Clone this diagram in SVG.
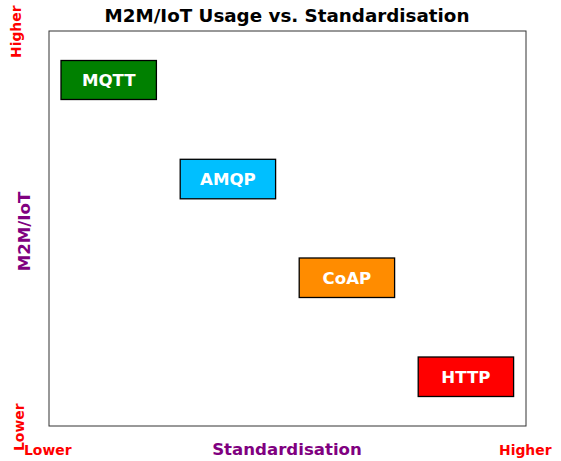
<svg xmlns="http://www.w3.org/2000/svg" width="561" height="461" viewBox="0 0 561 461">
  <style>
    text { font-family: "DejaVu Sans", "Liberation Sans", sans-serif; font-weight: bold; }
    .box { stroke: #000; stroke-width: 1.3; }
    .lbl { fill: #fff; font-size: 16.6px; text-anchor: middle; }
    .axis { fill: #800080; font-size: 16.6px; text-anchor: middle; }
    .tick { fill: #ff0000; font-size: 13.9px; }
  </style>
  <rect width="561" height="461" fill="#fff"/>
  <text x="287" y="22" font-size="18.3" text-anchor="middle" fill="#000">M2M/IoT Usage vs. Standardisation</text>
  <rect x="49" y="31" width="477" height="395" fill="none" stroke="#333" stroke-width="1"/>
  <g id="connectors"/>
  <g id="mqtt">
    <rect class="box" x="61" y="60.5" width="95.4" height="39" fill="#008000"/>
    <text class="lbl" x="108.7" y="86">MQTT</text>
  </g>
  <g id="amqp">
    <rect class="box" x="180.2" y="159.3" width="95.4" height="39.5" fill="#00bfff"/>
    <text class="lbl" x="227.9" y="185">AMQP</text>
  </g>
  <g id="coap">
    <rect class="box" x="299.2" y="258" width="95.4" height="39.5" fill="#ff8c00"/>
    <text class="lbl" x="346.9" y="283.7">CoAP</text>
  </g>
  <g id="http">
    <rect class="box" x="418.2" y="357" width="95.4" height="39.5" fill="#ff0000"/>
    <text class="lbl" x="465.9" y="382.7">HTTP</text>
  </g>
  <text class="axis" x="287" y="455">Standardisation</text>
  <text class="axis" transform="translate(30,231.5) rotate(-90)">M2M/IoT</text>
  <text class="tick" transform="translate(21,58) rotate(-90)">Higher</text>
  <text class="tick" transform="translate(24,451) rotate(-90)">Lower</text>
  <text class="tick" x="24" y="455">Lower</text>
  <text class="tick" x="499" y="455">Higher</text>
</svg>
